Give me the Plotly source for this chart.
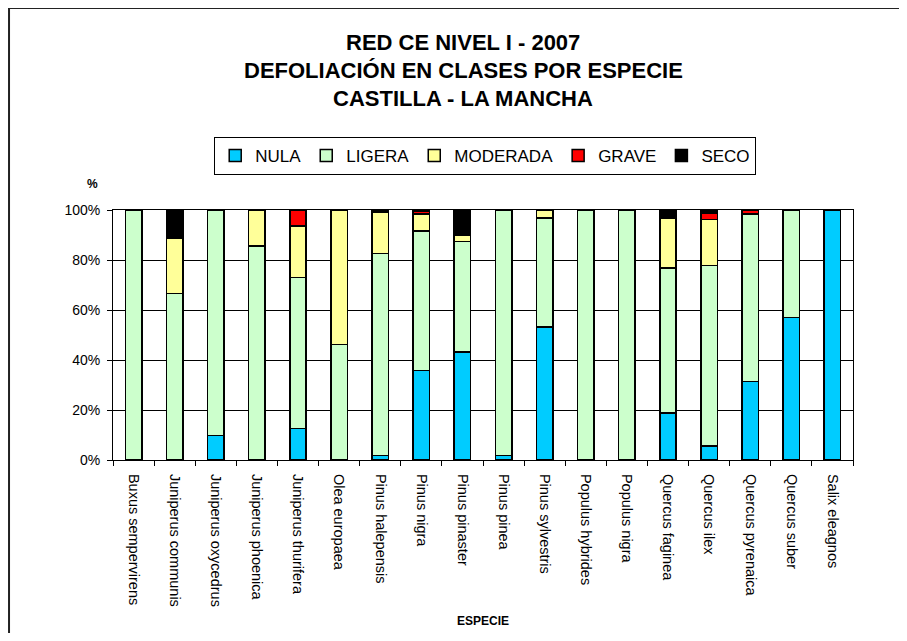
import plotly.graph_objects as go

especies = ['Buxus sempervirens', 'Juniperus communis', 'Juniperus oxycedrus',
            'Juniperus phoenica', 'Juniperus thurifera', 'Olea europaea',
            'Pinus halepensis', 'Pinus nigra', 'Pinus pinaster', 'Pinus pinea',
            'Pinus sylvestris', 'Populus hybrides', 'Populus nigra',
            'Quercus faginea', 'Quercus ilex', 'Quercus pyrenaica',
            'Quercus suber', 'Salix eleagnos']

nula = [0, 0, 9.9, 0, 12.7, 0, 1.9, 35.8, 43.3, 1.9, 53.2, 0, 0, 18.8, 5.6, 31.4, 57.1, 100]
ligera = [100, 66.7, 90.1, 85.7, 60.3, 46.2, 80.7, 55.9, 44.1, 98.1, 43.6, 100, 100, 58.1, 72.2, 66.9, 42.9, 0]
moderada = [0, 22.2, 0, 14.3, 20.6, 53.8, 16.6, 6.7, 2.7, 0, 3.2, 0, 0, 20.0, 18.5, 0.3, 0, 0]
grave = [0, 0, 0, 0, 6.4, 0, 0.5, 1.1, 0, 0, 0, 0, 0, 0, 2.6, 1.4, 0, 0]
seco = [0, 11.1, 0, 0, 0, 0, 0.3, 0.5, 9.9, 0, 0, 0, 0, 3.1, 1.1, 0, 0, 0]

clases = [('NULA', nula, '#00CCFF'),
          ('LIGERA', ligera, '#CCFFCC'),
          ('MODERADA', moderada, '#FFFF99'),
          ('GRAVE', grave, '#FF0000'),
          ('SECO', seco, '#000000')]

FONT = 'Arial, Liberation Sans, sans-serif'

fig = go.Figure()
for nombre, valores, color in clases:
    fig.add_trace(go.Bar(x=especies, y=valores, name=nombre,
                         marker=dict(color=color, line=dict(color='black', width=1.5))))

# la pagina tiene 8px de margen en el body: se descuenta aqui
fig.update_layout(
    barmode='stack', bargap=0.6,
    width=891, height=625,
    margin=dict(l=105, r=46, t=202, b=173),
    paper_bgcolor='white', plot_bgcolor='white',
    font=dict(family=FONT, color='black'),
    showlegend=True,
    legend=dict(orientation='h', x=0.503, xanchor='center', y=1.292, yanchor='top',
                font=dict(size=17, family=FONT), bordercolor='black', borderwidth=1,
                bgcolor='white', itemwidth=30, traceorder='normal'),
    xaxis=dict(type='category', tickangle=90, tickfont=dict(size=14.5),
               showline=True, linecolor='black', linewidth=1, mirror=True,
               ticks='outside', ticklen=5, tickcolor='black', tickson='boundaries',
               ticklabelstandoff=10, showgrid=False),
    yaxis=dict(range=[0, 100], dtick=20, ticksuffix='%', tickfont=dict(size=14),
               showline=True, linecolor='black', linewidth=1, mirror=True,
               ticks='outside', ticklen=5, tickcolor='black', ticklabelstandoff=4,
               showgrid=True, gridcolor='black', gridwidth=1, zeroline=False),
)

titulos = ['RED CE NIVEL I - 2007', 'DEFOLIACIÓN EN CLASES POR ESPECIE', 'CASTILLA - LA MANCHA']
for i, t in enumerate(titulos):
    fig.add_annotation(text='<b>%s</b>' % t, xref='paper', yref='paper',
                       x=0.4736, y=1.672 - i * 0.112, yanchor='middle', showarrow=False,
                       font=dict(size=22, family=FONT))

fig.add_annotation(text='<b>%</b>', xref='paper', yref='paper', x=-0.0375, y=1.104,
                   yanchor='middle', showarrow=False, font=dict(size=12, family=FONT))
fig.add_annotation(text='<b>ESPECIE</b>', xref='paper', yref='paper', x=0.5, y=-0.644,
                   yanchor='middle', showarrow=False, font=dict(size=12, family=FONT))

# borde del area del grafico
fig.add_shape(type='rect', xref='paper', yref='paper', x0=-0.1405, x1=1.2, y0=-1.0, y1=1.808,
              line=dict(color='#222222', width=2), layer='below')

fig.write_html('out.html')
